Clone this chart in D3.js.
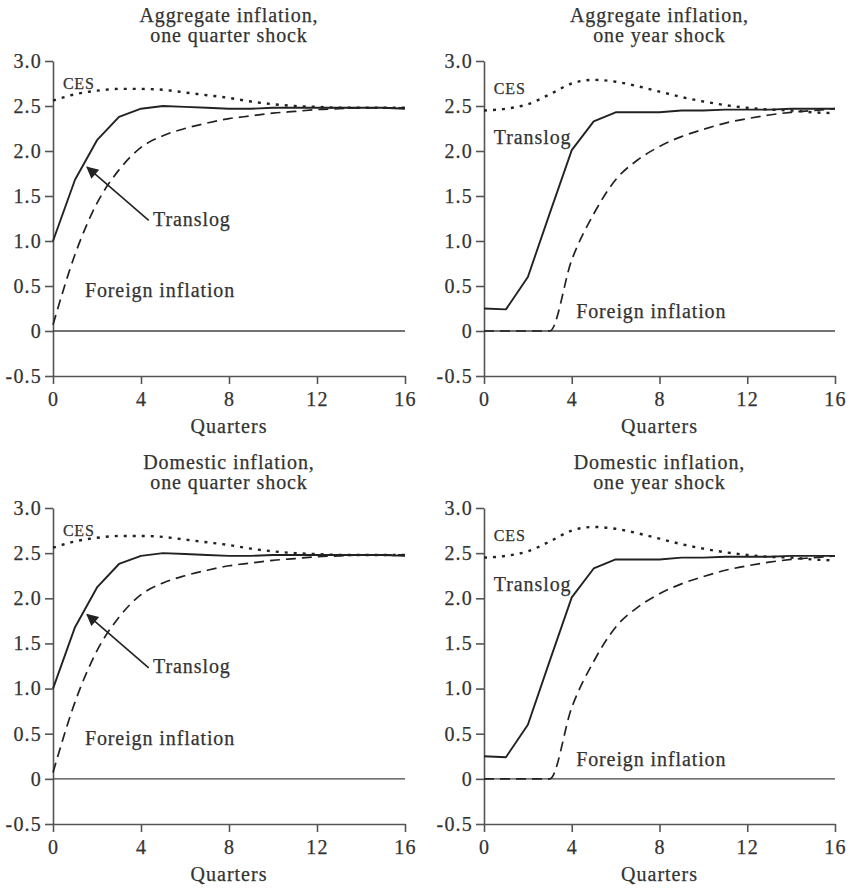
<!DOCTYPE html>
<html>
<head>
    <meta charset="utf-8">
    <title>Inflation responses</title>
    <script src="https://cdn.jsdelivr.net/npm/d3@7"></script>
    <style>
        body { margin: 0; background: #fff; }
        text { font-family: "Liberation Serif", "DejaVu Serif", serif; fill: #333; }
    </style>
</head>
<body>
<script>
    // quarters after the shock
    var quarters = [0, 1, 2, 3, 4, 5, 6, 7, 8, 9, 10, 11, 12, 13, 14, 15, 16];
    var xTicks = [0, 4, 8, 12, 16];
    var yTicks = [-0.5, 0, 0.5, 1.0, 1.5, 2.0, 2.5, 3.0];

    // one quarter shock (aggregate and domestic look the same)
    var translogQuarter = [1.0, 1.68, 2.12, 2.38, 2.47, 2.50, 2.49, 2.48, 2.47, 2.47, 2.48, 2.48, 2.48, 2.48, 2.48, 2.48, 2.47];
    var foreignQuarter  = [0.07, 0.85, 1.42, 1.79, 2.04, 2.17, 2.25, 2.31, 2.36, 2.39, 2.42, 2.44, 2.46, 2.47, 2.48, 2.48, 2.48];
    var cesQuarter      = [2.56, 2.63, 2.67, 2.69, 2.69, 2.68, 2.65, 2.62, 2.59, 2.55, 2.52, 2.50, 2.49, 2.48, 2.48, 2.48, 2.48];

    // one year shock
    var translogYear = [0.25, 0.24, 0.60, 1.31, 2.01, 2.33, 2.43, 2.43, 2.43, 2.45, 2.45, 2.46, 2.46, 2.46, 2.47, 2.47, 2.47];
    var foreignYear  = [0, 0, 0, 0, 0.79, 1.30, 1.68, 1.90, 2.05, 2.16, 2.24, 2.31, 2.36, 2.40, 2.43, 2.45, 2.47];
    var cesYear      = [2.45, 2.47, 2.52, 2.63, 2.75, 2.79, 2.77, 2.72, 2.66, 2.60, 2.55, 2.51, 2.48, 2.46, 2.45, 2.43, 2.42];

    var titles = [
        ['Aggregate inflation,', 'one quarter shock'],
        ['Aggregate inflation,', 'one year shock'],
        ['Domestic inflation,', 'one quarter shock'],
        ['Domestic inflation,', 'one year shock']
    ];

    var width = 852, height = 890;
    var svg = d3.select('body').append('svg').attr('width', width).attr('height', height);

    var panels = [
        {left: 53, right: 405, top: 61, bottom: 376, title: titles[0], tr: translogQuarter, fo: foreignQuarter, ces: cesQuarter, kind: 'quarter'},
        {left: 484, right: 835, top: 61, bottom: 376, title: titles[1], tr: translogYear, fo: foreignYear, ces: cesYear, kind: 'year'},
        {left: 53, right: 405, top: 508, bottom: 824, title: titles[2], tr: translogQuarter, fo: foreignQuarter, ces: cesQuarter, kind: 'quarter'},
        {left: 484, right: 835, top: 508, bottom: 824, title: titles[3], tr: translogYear, fo: foreignYear, ces: cesYear, kind: 'year'}
    ];

    var defs = svg.append('defs');
    defs.append('marker')
            .attr('id', 'head')
            .attr('viewBox', '0 0 10 10')
            .attr('refX', 9).attr('refY', 5)
            .attr('markerWidth', 14).attr('markerHeight', 12)
            .attr('markerUnits', 'userSpaceOnUse')
            .attr('orient', 'auto')
            .append('path').attr('d', 'M0,0 L10,5 L0,10 z').attr('fill', '#222');

    function fmt(d) {
        // plain hyphen for the negative tick, as in the original
        return d === 0 ? '0' : d.toFixed(1);
    }

    // text style shared by all labels
    function label(sel, size, spacing) {
        return sel.attr('font-size', size)
                .attr('letter-spacing', spacing)
                .attr('fill', '#333')
                .attr('stroke', '#333').attr('stroke-width', 0.25)
                .style('font-family', '"Liberation Serif", "DejaVu Serif", serif');
    }

    panels.forEach(function (p) {
        var x = d3.scaleLinear().domain([0, 16]).range([p.left, p.right]);
        var y = d3.scaleLinear().domain([-0.5, 3.0]).range([p.bottom, p.top]);
        var g = svg.append('g');

        // titles
        g.selectAll('text.title').data(p.title).enter().append('text')
                .attr('class', 'title')
                .attr('x', (p.left + p.right) / 2)
                .attr('y', function (d, i) {
                    return p.top - 39 + i * 20;
                })
                .attr('text-anchor', 'middle')
                .call(label, 20, 0.9)
                .text(function (d) {
                    return d;
                });

        // axes
        var yAxis = d3.axisLeft(y).tickValues(yTicks).tickFormat(fmt).tickSize(8).tickSizeOuter(0).tickPadding(3);
        var xAxis = d3.axisBottom(x).tickValues(xTicks).tickSize(8).tickSizeOuter(0).tickPadding(8);

        var ya = g.append('g').attr('transform', 'translate(' + p.left + ',0)').call(yAxis);
        var xa = g.append('g').attr('transform', 'translate(0,' + p.bottom + ')').call(xAxis);
        [ya, xa].forEach(function (a) {
            a.select('.domain').attr('stroke', '#555').attr('stroke-width', 1.6);
            a.selectAll('.tick line').attr('stroke', '#555').attr('stroke-width', 1.6);
            a.selectAll('.tick text').call(label, 20, 1.2);
        });

        g.append('text')
                .attr('x', (p.left + p.right) / 2)
                .attr('y', p.bottom + 57)
                .attr('text-anchor', 'middle')
                .call(label, 20, 1)
                .text('Quarters');

        // zero line
        g.append('line')
                .attr('x1', x(0)).attr('x2', x(16))
                .attr('y1', y(0)).attr('y2', y(0))
                .attr('stroke', '#444').attr('stroke-width', 1.3);

        var lin = d3.line()
                .x(function (d, i) { return x(quarters[i]); })
                .y(function (d) { return y(d); });
        var smooth = d3.line()
                .x(function (d, i) { return x(quarters[i]); })
                .y(function (d) { return y(d); })
                .curve(d3.curveMonotoneX);

        g.append('path').attr('d', smooth(p.ces))
                .attr('fill', 'none').attr('stroke', '#222').attr('stroke-width', 2.4)
                .attr('stroke-dasharray', '3,6');
        g.append('path').attr('d', smooth(p.fo))
                .attr('fill', 'none').attr('stroke', '#222').attr('stroke-width', 1.7)
                .attr('stroke-dasharray', '10,6');
        g.append('path').attr('d', lin(p.tr))
                .attr('fill', 'none').attr('stroke', '#222').attr('stroke-width', 1.9)
                .attr('stroke-linejoin', 'round');

        // annotations
        if (p.kind === 'quarter') {
            g.append('text').attr('x', x(0.45)).attr('y', y(2.69)).call(label, 16, 0.8).text('CES');
            g.append('text').attr('x', x(4.55)).attr('y', y(1.17)).call(label, 20, 0.9).text('Translog');
            g.append('text').attr('x', x(1.45)).attr('y', y(0.38)).call(label, 20, 0.9).text('Foreign inflation');
            g.append('line')
                    .attr('x1', x(4.35)).attr('y1', y(1.23))
                    .attr('x2', x(1.55)).attr('y2', y(1.82))
                    .attr('stroke', '#222').attr('stroke-width', 1.6)
                    .attr('marker-end', 'url(#head)');
        } else {
            g.append('text').attr('x', x(0.45)).attr('y', y(2.63)).call(label, 16, 0.8).text('CES');
            g.append('text').attr('x', x(0.45)).attr('y', y(2.08)).call(label, 20, 0.9).text('Translog');
            g.append('text').attr('x', x(4.2)).attr('y', y(0.14)).call(label, 20, 0.9).text('Foreign inflation');
        }
    });
</script>
</body>
</html>
